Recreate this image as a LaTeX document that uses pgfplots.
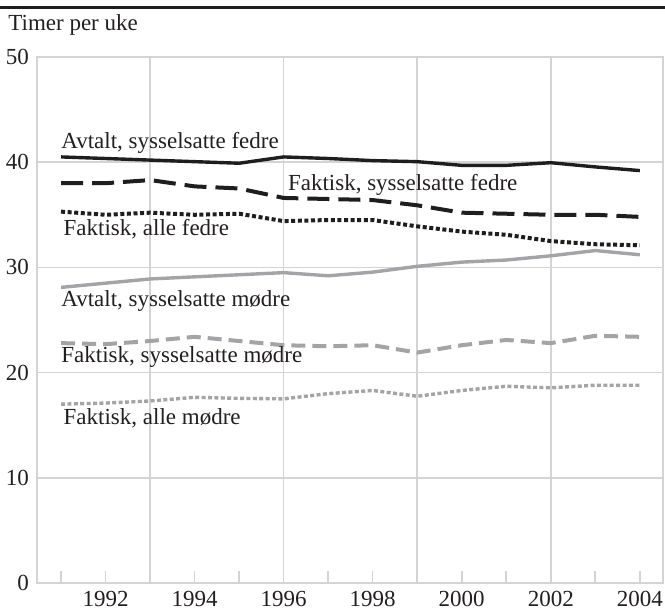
\documentclass[border=0pt]{standalone}
\usepackage{fontspec}
\setmainfont{Liberation Serif}
\usepackage{pgfplots}
\pgfplotsset{compat=1.18}
\definecolor{gridc}{RGB}{212,212,212}
\definecolor{blk}{RGB}{30,30,30}
\definecolor{gry}{RGB}{163,163,168}
\definecolor{txt}{RGB}{35,31,32}
\begin{document}
\fontsize{11.5}{13}\selectfont
\begin{tikzpicture}
\begin{axis}[
  scale only axis, width=313pt, height=263pt,
  xmin=1990.46, xmax=2004.52, ymin=0, ymax=50,
  axis line style={gridc, line width=0.8pt},
  xtick={1991,...,2004},
  xticklabels={,1992,,1994,,1996,,1998,,2000,,2002,,2004},
  xtick pos=bottom,
  ytick={0,10,...,50},
  ymajorgrids, grid style={gridc, line width=0.8pt},
  extra x ticks={1993,1996,1999,2002}, extra x tick labels={},
  extra x tick style={xmajorgrids=true, tick style={draw=none}},
  tick style={gridc, line width=0.8pt},
  tick align=inside,
  major tick length=6pt,
  y tick style={draw=none},
  ticklabel style={font=\fontsize{11.5}{13}\selectfont, text=txt},
  /pgf/number format/assume math mode=true,
  clip=false,
]
% Avtalt, sysselsatte fedre
\addplot[blk, line width=1.7pt] coordinates {
(1991,40.5)(1992,40.35)(1993,40.2)(1994,40.05)(1995,39.9)(1996,40.5)(1997,40.35)
(1998,40.15)(1999,40.05)(2000,39.7)(2001,39.7)(2002,39.95)(2003,39.55)(2004,39.2)};
% Faktisk, sysselsatte fedre
\addplot[blk, line width=2pt, dash pattern=on 11pt off 4.5pt] coordinates {
(1991,38.0)(1992,38.0)(1993,38.3)(1994,37.7)(1995,37.5)(1996,36.6)(1997,36.5)
(1998,36.4)(1999,35.9)(2000,35.2)(2001,35.1)(2002,35.0)(2003,35.0)(2004,34.8)};
% Faktisk, alle fedre
\addplot[blk, line width=2pt, dash pattern=on 2pt off 1.3pt] coordinates {
(1991,35.3)(1992,35.0)(1993,35.2)(1994,35.0)(1995,35.1)(1996,34.4)(1997,34.5)
(1998,34.5)(1999,33.9)(2000,33.4)(2001,33.1)(2002,32.5)(2003,32.2)(2004,32.1)};
% Avtalt, sysselsatte modre
\addplot[gry, line width=1.7pt] coordinates {
(1991,28.1)(1992,28.5)(1993,28.9)(1994,29.1)(1995,29.3)(1996,29.5)(1997,29.2)
(1998,29.55)(1999,30.1)(2000,30.5)(2001,30.7)(2002,31.1)(2003,31.6)(2004,31.2)};
% Faktisk, sysselsatte modre
\addplot[gry, line width=2pt, dash pattern=on 7pt off 3.5pt] coordinates {
(1991,22.8)(1992,22.7)(1993,23.0)(1994,23.4)(1995,23.0)(1996,22.6)(1997,22.5)
(1998,22.6)(1999,21.9)(2000,22.6)(2001,23.1)(2002,22.8)(2003,23.5)(2004,23.4)};
% Faktisk, alle modre
\addplot[gry, line width=1.7pt, dash pattern=on 2pt off 1.2pt] coordinates {
(1991,17.0)(1992,17.1)(1993,17.3)(1994,17.65)(1995,17.55)(1996,17.5)(1997,18.0)
(1998,18.3)(1999,17.75)(2000,18.3)(2001,18.7)(2002,18.55)(2003,18.8)(2004,18.8)};
\node[anchor=base west, inner sep=0, text=txt] at (axis cs:1991.0,41.3) {Avtalt, sysselsatte fedre};
\node[anchor=base west, inner sep=0, text=txt] at (axis cs:1996.09,37.35) {Faktisk, sysselsatte fedre};
\node[anchor=base west, inner sep=0, text=txt] at (axis cs:1991.05,33.0) {Faktisk, alle fedre};
\node[anchor=base west, inner sep=0, text=txt] at (axis cs:1991.0,26.27) {Avtalt, sysselsatte mødre};
\node[anchor=base west, inner sep=0, text=txt] at (axis cs:1991.0,20.94) {Faktisk, sysselsatte mødre};
\node[anchor=base west, inner sep=0, text=txt] at (axis cs:1991.05,15.1) {Faktisk, alle mødre};
\end{axis}
\draw[blk, line width=1.5pt] ([xshift=-18.5pt,yshift=24.5pt]current axis.north west) -- ([xshift=1pt,yshift=24.5pt]current axis.north east);
\node[anchor=base west, inner sep=0, text=txt] at ([xshift=-14.5pt,yshift=13pt]current axis.north west) {Timer per uke};
\pgfresetboundingbox
\path[use as bounding box] ([xshift=-18.5pt,yshift=-13.5pt]current axis.south west) rectangle ([xshift=1pt,yshift=28.5pt]current axis.north east);
\end{tikzpicture}
\end{document}
